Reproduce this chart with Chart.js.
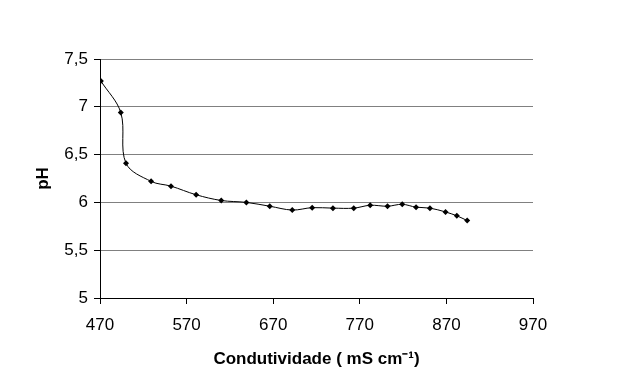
<!DOCTYPE html>
<html>
<head>
<meta charset="utf-8">
<script src="https://cdn.jsdelivr.net/npm/chart.js@4"></script>
<style>
  html, body { margin: 0; padding: 0; background: #fff; }
  #wrap { width: 620px; height: 388px; }
</style>
</head>
<body>
<div id="wrap"><canvas id="chart1"></canvas></div>
<script>
// condutividade (mS/cm) vs pH
const conductivity = [471, 494, 500, 529, 552, 581, 610, 639, 666, 692, 715, 739, 763, 782, 802, 819, 835, 851, 869, 882, 894];
const phValues = [7.27, 6.94, 6.41, 6.22, 6.17, 6.08, 6.02, 6.00, 5.96, 5.92, 5.945, 5.94, 5.94, 5.97, 5.96, 5.98, 5.95, 5.94, 5.90, 5.86, 5.81];
const xTicks = [470, 570, 670, 770, 870, 970];
const yTicks = [5, 5.5, 6, 6.5, 7, 7.5];

const points = conductivity.map((c, i) => ({ x: c, y: phValues[i] }));
const font = "'Liberation Sans', Arial, sans-serif";

const chart1 = document.getElementById('chart1');
new Chart(chart1, {
  type: 'scatter',
  data: {
    datasets: [{
      data: points,
      showLine: true,
      borderColor: '#000',
      borderWidth: 1,
      tension: 0.35,
      pointStyle: 'rectRot',
      pointRadius: 3,
      pointBackgroundColor: '#000',
      pointBorderColor: '#000',
      pointBorderWidth: 0
    }]
  },
  options: {
    responsive: true,
    maintainAspectRatio: false,
    animation: false,
    layout: { padding: { left: 33, top: 59, right: 87, bottom: 18 } },
    plugins: { legend: { display: false }, tooltip: { enabled: false } },
    scales: {
      x: {
        type: 'linear',
        min: 470,
        max: 970,
        afterBuildTicks: s => { s.ticks = xTicks.map(v => ({ value: v })); },
        afterFit: s => { s.height = 388 - 18 - 298; },
        grid: { drawOnChartArea: false, tickLength: 6, tickColor: '#000' },
        border: { color: '#000', width: 1 },
        ticks: { color: '#000', font: { family: font, size: 17 }, padding: 11, maxRotation: 0 },
        title: {
          display: true,
          text: 'Condutividade ( mS cm\u207B\u00B9)',
          color: '#000',
          font: { family: font, size: 17, weight: 'bold' },
          padding: { top: 0, bottom: 0 }
        }
      },
      y: {
        min: 5,
        max: 7.5,
        afterBuildTicks: s => { s.ticks = yTicks.map(v => ({ value: v })); },
        afterFit: s => { s.width = 100 - 33; },
        grid: { color: '#808080', tickLength: 6, tickColor: '#000' },
        border: { color: '#000', width: 1 },
        ticks: {
          color: '#000',
          font: { family: font, size: 17 },
          padding: 6,
          callback: v => String(v).replace('.', ',')
        },
        title: {
          display: true,
          text: 'pH',
          color: '#000',
          font: { family: font, size: 17, weight: 'bold' },
          padding: { top: 0, bottom: 0 }
        }
      }
    }
  }
});
</script>
</body>
</html>
